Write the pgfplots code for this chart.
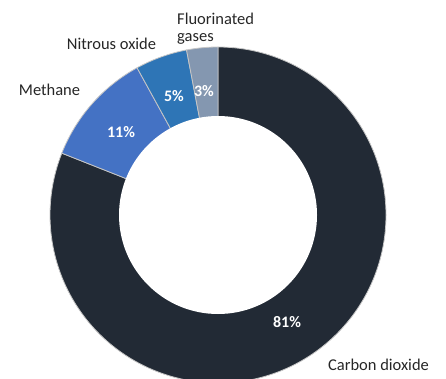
\documentclass[border=0pt]{standalone}
\usepackage{pgfplots}
\pgfplotsset{compat=1.18}
\usepackage{fontspec}
\setmainfont{Carlito}
\definecolor{cco}{HTML}{222A35}
\definecolor{cme}{HTML}{4472C4}
\definecolor{cno}{HTML}{2E75B6}
\definecolor{cfg}{HTML}{8497B0}
\begin{document}
\begin{tikzpicture}
\begin{axis}[scale only axis, width=446pt, height=378pt,
  xmin=0, xmax=446, ymin=0, ymax=378, hide axis, clip=true]
% donut centre (218,163), outer radius 168, inner radius 99; values in percent
\gdef\startangle{90}
\foreach \v/\col in {81/cco, 11/cme, 5/cno, 3/cfg}{
  \pgfmathsetmacro{\enda}{\startangle-3.6*\v}
  \edef\temp{\noexpand\fill[\col, draw=gray!45, line width=0.8pt] (axis cs:218,163) -- ([shift={(axis cs:218,163)}]\startangle:168pt)
     arc[start angle=\startangle, end angle=\enda, radius=168pt] -- cycle;}
  \temp
  \xdef\startangle{\enda}
}
\fill[white] (axis cs:218,163) circle[radius=99pt];
\node[white, font=\bfseries\fontsize{16}{18}\selectfont] at (axis cs:287,56) {81\%};
\node[white, font=\bfseries\fontsize{16}{18}\selectfont] at (axis cs:121,246) {11\%};
\node[white, font=\bfseries\fontsize{16}{18}\selectfont] at (axis cs:174,282) {5\%};
\node[white, font=\bfseries\fontsize{16}{18}\selectfont] at (axis cs:204,287) {3\%};
\node[black!85, font=\fontsize{16.5}{19}\selectfont] at (axis cs:378.5,13) {Carbon dioxide};
\node[black!85, font=\fontsize{16.5}{19}\selectfont] at (axis cs:49.5,288) {Methane};
\node[black!85, font=\fontsize{16.5}{19}\selectfont] at (axis cs:111.5,334) {Nitrous oxide};
\node[black!85, font=\fontsize{16.5}{19}\selectfont, anchor=west, align=left, inner sep=0pt] at (axis cs:177,349) {Fluorinated\\[-2pt]gases};
\end{axis}
\pgfresetboundingbox
\useasboundingbox (0,0) rectangle (446pt,378pt);
\end{tikzpicture}
\end{document}
